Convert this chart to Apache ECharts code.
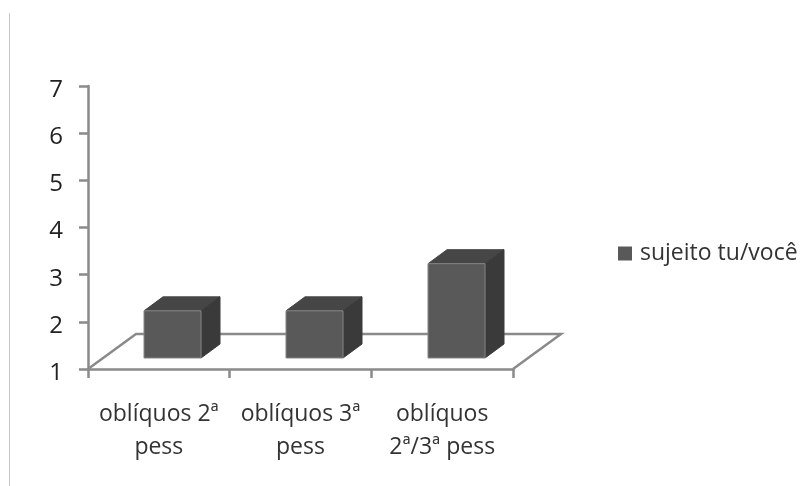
<!DOCTYPE html>
<html>
<head>
<meta charset="utf-8">
<style>
  html, body { margin: 0; padding: 0; background: #fff; }
  #chart { width: 805px; height: 486px; position: relative; }
  #edge { position: absolute; left: 9px; top: 13px; width: 1px; height: 473px; background: #c8c8c8; z-index: 2; }
</style>
<script src="https://cdn.jsdelivr.net/npm/echarts@6/dist/echarts.min.js"></script>
</head>
<body>
<div id="edge"></div>
<div id="chart"></div>
<script>
const categories = ['oblíquos 2ª\npess', 'oblíquos 3ª\npess', 'oblíquos\n2ª/3ª pess'];
const seriesName = 'sujeito tu/você';
const values = [2, 2, 3];
const yTicks = { min: 1, max: 7, interval: 1 };

const FONT = '"Open Sans", "Noto Sans", sans-serif';
const AXIS = '#8a8a8a';
const FRONT = '#595959', TOP = '#464646', SIDE = '#3a3a3a', FRONT_EDGE = '#858585';
// Depth of the floor and of each box, in pixels
const FLOOR_DX = 48, FLOOR_DY = 35;
const BOX_DX = 19, BOX_DY = 14, BOX_W = 57, BOX_LIFT = 11, BOX_SHIFT = 14;

function renderFloor(params, api) {
  const c = params.coordSys;
  const bottom = c.y + c.height, right = c.x + c.width;
  return {
    type: 'polyline',
    silent: true,
    shape: { points: [
      [c.x, bottom],
      [c.x + FLOOR_DX, bottom - FLOOR_DY],
      [right + FLOOR_DX, bottom - FLOOR_DY],
      [right, bottom]
    ] },
    style: { fill: null, stroke: AXIS, lineWidth: 2.5 }
  };
}

function renderBox(params, api) {
  const base = api.coord([api.value(0), 1]);
  const peak = api.coord([api.value(0), api.value(1)]);
  const x0 = Math.round(base[0] + BOX_SHIFT - BOX_W / 2), x1 = x0 + BOX_W;
  const y0 = base[1] - BOX_LIFT, y1 = peak[1] - BOX_LIFT;
  return {
    type: 'group',
    children: [
      { type: 'polygon',
        shape: { points: [[x0, y1], [x1, y1], [x1 + BOX_DX, y1 - BOX_DY], [x0 + BOX_DX, y1 - BOX_DY]] },
        style: { fill: TOP, stroke: TOP, lineWidth: 1 } },
      { type: 'polygon',
        shape: { points: [[x1, y0], [x1 + BOX_DX, y0 - BOX_DY], [x1 + BOX_DX, y1 - BOX_DY], [x1, y1]] },
        style: { fill: SIDE, stroke: SIDE, lineWidth: 1 } },
      { type: 'rect',
        shape: { x: x0, y: y1, width: BOX_W, height: y0 - y1 },
        style: { fill: FRONT, stroke: FRONT_EDGE, lineWidth: 1 } }
    ]
  };
}

const chart = echarts.init(document.getElementById('chart'), null, { renderer: 'canvas' });
chart.setOption({
  animation: false,
  backgroundColor: '#ffffff',
  grid: { left: 88, top: 86, width: 425, height: 283, containLabel: false },
  legend: {
    data: [seriesName],
    left: 618,
    top: 242,
    padding: 0,
    icon: 'rect',
    itemWidth: 14,
    itemHeight: 14,
    itemGap: 0,
    textStyle: { fontFamily: FONT, fontSize: 23, color: '#333333', padding: [0, 0, 0, 3] }
  },
  xAxis: {
    type: 'category',
    data: categories,
    boundaryGap: true,
    axisLine: { lineStyle: { color: AXIS, width: 2.5 } },
    axisTick: { show: true, alignWithLabel: false, length: 9, lineStyle: { color: AXIS, width: 2.5 } },
    axisLabel: { fontFamily: FONT, fontSize: 23, color: '#333333', lineHeight: 33, margin: 29, interval: 0 }
  },
  yAxis: {
    type: 'value',
    min: yTicks.min,
    max: yTicks.max,
    interval: yTicks.interval,
    splitLine: { show: false },
    axisLine: { show: true, lineStyle: { color: AXIS, width: 2.5 } },
    axisTick: { show: true, length: 9, lineStyle: { color: AXIS, width: 2.5 } },
    axisLabel: { fontFamily: FONT, fontSize: 24, color: '#222222', margin: 25, verticalAlign: 'top', lineHeight: 8 }
  },
  series: [
    {
      name: 'floor',
      type: 'custom',
      silent: true,
      z: 1,
      clip: false,
      renderItem: renderFloor,
      data: [0],
      encode: { x: 0 }
    },
    {
      name: seriesName,
      type: 'custom',
      z: 3,
      clip: false,
      itemStyle: { color: FRONT },
      renderItem: renderBox,
      data: values.map((v, i) => [i, v]),
      encode: { x: 0, y: 1 }
    }
  ]
});
</script>
</body>
</html>
